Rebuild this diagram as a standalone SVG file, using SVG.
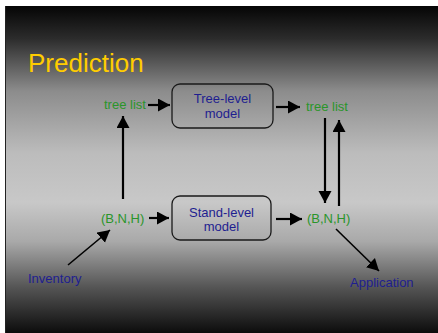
<svg xmlns="http://www.w3.org/2000/svg" width="438" height="333" viewBox="0 0 438 333">
  <defs>
    <linearGradient id="bg" x1="0" y1="0" x2="0" y2="1">
      <stop offset="0" stop-color="#050505"/>
      <stop offset="0.1" stop-color="#2c2c2c"/>
      <stop offset="0.26" stop-color="#8c8c8c"/>
      <stop offset="0.45" stop-color="#bcbcbc"/>
      <stop offset="0.6" stop-color="#c8c8c8"/>
      <stop offset="0.72" stop-color="#a9a9a9"/>
      <stop offset="0.86" stop-color="#555555"/>
      <stop offset="1" stop-color="#0c0c0c"/>
    </linearGradient>
    <marker id="head" markerUnits="userSpaceOnUse" markerWidth="14" markerHeight="14" refX="12" refY="6.5" orient="auto">
      <path d="M0,0 L12,6.5 L0,13 Z" fill="#000"/>
    </marker>
  </defs>
  <style>
    .lbl { font-family: "Liberation Sans", Arial, sans-serif; font-size: 13px; }
    .data { fill: #2a952a; }
    .blue { fill: #1e1e90; }
    .box { fill: none; stroke: #1a1a1a; stroke-width: 1.3; }
    .conn line { stroke: #000; stroke-width: 2.2; marker-end: url(#head); }
    .conn line.thin { stroke-width: 1.6; }
  </style>

  <rect x="0" y="0" width="438" height="333" fill="#ffffff"/>
  <rect x="6" y="6" width="432" height="327" fill="url(#bg)"/>
  <line x1="5.5" y1="6" x2="5.5" y2="333" stroke="#222" stroke-width="1"/>

  <text x="28" y="72" font-family="'Liberation Sans', Arial, sans-serif" font-size="26" fill="#ffcc00">Prediction</text>

  <g id="treelist-in">
    <text class="lbl data" x="104" y="109">tree list</text>
  </g>
  <g id="tree-model">
    <rect class="box" x="172" y="84" width="101" height="44" rx="8"/>
    <text class="lbl blue" x="222.5" y="103" text-anchor="middle">Tree-level</text>
    <text class="lbl blue" x="222.5" y="118" text-anchor="middle">model</text>
  </g>
  <g id="treelist-out">
    <text class="lbl data" x="306" y="111">tree list</text>
  </g>
  <g id="bnh-in">
    <text class="lbl data" x="101" y="223">(B,N,H)</text>
  </g>
  <g id="stand-model">
    <rect class="box" x="172" y="196" width="99" height="44" rx="8"/>
    <text class="lbl blue" x="221.5" y="217" text-anchor="middle">Stand-level</text>
    <text class="lbl blue" x="221.5" y="231" text-anchor="middle">model</text>
  </g>
  <g id="bnh-out">
    <text class="lbl data" x="307" y="223">(B,N,H)</text>
  </g>
  <g id="inventory">
    <text class="lbl blue" x="28" y="283">Inventory</text>
  </g>
  <g id="application">
    <text class="lbl blue" x="350" y="287">Application</text>
  </g>

  <g class="conn">
    <line x1="148" y1="105" x2="170" y2="105"/>
    <line x1="276" y1="107" x2="300" y2="107"/>
    <line x1="123" y1="199" x2="123" y2="116"/>
    <line x1="149" y1="218" x2="169" y2="218"/>
    <line x1="276" y1="219" x2="302" y2="219"/>
    <line x1="325" y1="118" x2="325" y2="203"/>
    <line x1="339" y1="206" x2="339" y2="120"/>
    <line class="thin" x1="68" y1="265" x2="110" y2="230"/>
    <line class="thin" x1="336" y1="229" x2="379" y2="271"/>
  </g>
</svg>
